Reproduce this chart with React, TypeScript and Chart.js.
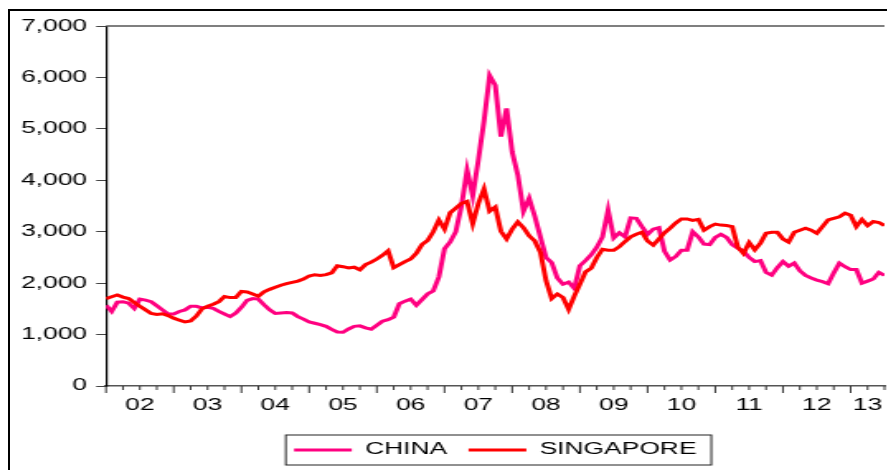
import React, { useEffect, useRef } from 'react';
import { Chart, registerables } from 'chart.js';

Chart.register(...registerables);

// ---- data (monthly, starting January 2002) ----
const START_YEAR = 2002;
const SERIES_NAMES = ['CHINA', 'SINGAPORE'];
const YEAR_LABELS = ['02', '03', '04', '05', '06', '07', '08', '09', '10', '11', '12', '13'];
const Y_TICKS = [0, 1000, 2000, 3000, 4000, 5000, 6000, 7000];
const Y_TICK_LABELS = ['0', '1,000', '2,000', '3,000', '4,000', '5,000', '6,000', '7,000'];

const CHINA = [
  1570, 1450, 1630, 1640, 1610, 1510, 1690, 1670, 1640, 1560, 1480, 1400,
  1400, 1450, 1480, 1550, 1550, 1520, 1530, 1510, 1450, 1400, 1350, 1420,
  1530, 1665, 1700, 1690, 1580, 1480, 1410, 1420, 1430, 1420, 1350, 1300,
  1245, 1220, 1195, 1160, 1100, 1050, 1045, 1110, 1160, 1170, 1130, 1105,
  1180, 1260, 1290, 1340, 1600, 1650, 1690, 1570, 1680, 1790, 1850, 2120,
  2670, 2800, 3000, 3500, 4200, 3700, 4400, 5150, 6040, 5850, 4850, 5400,
  4550, 4100, 3400, 3650, 3300, 2900, 2500, 2400, 2100, 1980, 2020, 1900,
  2340, 2440, 2550, 2700, 2900, 3420, 2880, 2980, 2900, 3270, 3260, 3100,
  2950, 3050, 3080, 2620, 2450, 2520, 2640, 2640, 3000, 2900, 2760, 2750,
  2890, 2950, 2890, 2750, 2680, 2620, 2500, 2420, 2440, 2210, 2155, 2300,
  2420, 2330, 2390, 2240, 2150, 2100, 2060, 2030, 1990, 2200, 2390, 2320,
  2265, 2265, 2000, 2040, 2080, 2210, 2150,
];

const SINGAPORE = [
  1700, 1735, 1770, 1730, 1700, 1625, 1550, 1480, 1410, 1390, 1405, 1370,
  1320, 1280, 1245, 1265, 1360, 1500, 1550, 1590, 1640, 1740, 1720, 1720,
  1840, 1830, 1790, 1745, 1830, 1880, 1920, 1960, 1990, 2015, 2040, 2080,
  2140, 2165, 2150, 2165, 2200, 2340, 2320, 2295, 2310, 2260, 2360, 2410,
  2470, 2540, 2630, 2300, 2360, 2420, 2470, 2580, 2750, 2830, 3000, 3230,
  3050, 3370, 3460, 3550, 3590, 3160, 3550, 3830, 3400, 3480, 3010, 2860,
  3050, 3190, 3080, 2920, 2820, 2600, 2050, 1700, 1790, 1720, 1490, 1750,
  1980, 2220, 2290, 2500, 2660, 2640, 2640, 2710, 2810, 2900, 2950, 2990,
  2820, 2740, 2860, 2980, 3070, 3170, 3250, 3250, 3220, 3240, 3030, 3100,
  3150, 3130, 3120, 3100, 2700, 2580, 2790, 2650, 2780, 2970, 2990, 2990,
  2860, 2800, 2990, 3030, 3070, 3030, 2970, 3100, 3230, 3260, 3290, 3360,
  3320, 3100, 3240, 3120, 3200, 3180, 3120,
];

const CHINA_COLOR = '#FF0080';
const SINGAPORE_COLOR = '#FF0000';

// ---- layout ----
const STRETCH = 1.65; // the reference is horizontally stretched
const CW = 532;
const CH = 470;

export default function App() {
  const ref = useRef<HTMLCanvasElement>(null);

  useEffect(() => {
    document.documentElement.style.overflow = 'hidden';
    document.body.style.overflow = 'hidden';
    const canvas = ref.current;
    if (!canvas) return;

    const xs = CHINA.map((_, i) => START_YEAR + i / 12);
    const xMax = xs[xs.length - 1];
    const font = { family: "'Liberation Sans', Arial, sans-serif", size: 16 };

    const decor = {
      id: 'decor',
      afterDraw(chart: any) {
        const ctx = chart.ctx;
        const sc = chart.scales.x;
        const a = chart.chartArea;
        ctx.save();
        // quarterly tick marks
        ctx.strokeStyle = '#333';
        ctx.lineWidth = 1;
        for (let k = Math.ceil(sc.min * 4); k / 4 <= sc.max + 1e-9; k++) {
          const q = k / 4;
          const px = sc.getPixelForValue(q);
          const len = k % 4 === 0 ? 7 : 4;
          ctx.beginPath();
          ctx.moveTo(px, a.bottom);
          ctx.lineTo(px, a.bottom + len);
          ctx.stroke();
        }
        // top frame line
        ctx.strokeStyle = '#555';
        ctx.lineWidth = 1.5;
        ctx.beginPath();
        ctx.moveTo(a.left, a.top);
        ctx.lineTo(a.right, a.top);
        ctx.stroke();
        // legend border
        const hb = chart.legend && chart.legend.legendHitBoxes;
        if (hb && hb.length) {
          const l = Math.min(...hb.map((h: any) => h.left));
          const r = Math.max(...hb.map((h: any) => h.left + h.width));
          const t = Math.min(...hb.map((h: any) => h.top));
          const b = Math.max(...hb.map((h: any) => h.top + h.height));
          ctx.strokeStyle = '#222';
          ctx.lineWidth = 1;
          ctx.strokeRect(l - 5, t - 7, r - l + 14, b - t + 14);
        }
        ctx.restore();
      },
    };

    const chart = new Chart(canvas, {
      type: 'line',
      data: {
        datasets: [
          {
            label: SERIES_NAMES[0],
            data: xs.map((x, i) => ({ x, y: CHINA[i] })),
            borderColor: CHINA_COLOR,
            backgroundColor: CHINA_COLOR,
            borderWidth: 3,
            pointRadius: 0,
            tension: 0,
            order: 1,
          },
          {
            label: SERIES_NAMES[1],
            data: xs.map((x, i) => ({ x, y: SINGAPORE[i] })),
            borderColor: SINGAPORE_COLOR,
            backgroundColor: SINGAPORE_COLOR,
            borderWidth: 3,
            pointRadius: 0,
            tension: 0,
            order: 0,
          },
        ],
      },
      options: {
        animation: false,
        responsive: false,
        devicePixelRatio: 1,
        layout: { padding: { top: 13, right: 2, bottom: 13, left: 0 } },
        plugins: {
          legend: {
            position: 'bottom',
            fullSize: false,
            labels: {
              boxWidth: 35,
              boxHeight: 3,
              padding: 13,
              font,
              color: '#000',
              generateLabels: (c: any) =>
                c.data.datasets.map((d: any, i: number) => ({
                  text: d.label,
                  fillStyle: d.borderColor,
                  strokeStyle: d.borderColor,
                  lineWidth: 0,
                  hidden: false,
                  datasetIndex: i,
                  fontColor: '#000',
                })),
            },
          },
          tooltip: { enabled: false },
        },
        scales: {
          x: {
            type: 'linear',
            min: START_YEAR,
            max: xMax,
            grid: { display: false, drawTicks: false },
            border: { display: true, color: '#555', width: 1.5 },
            afterBuildTicks: (s: any) => {
              s.ticks = YEAR_LABELS.map((_, i) => {
                const lo = Math.max(START_YEAR + i, s.min);
                const hi = Math.min(START_YEAR + i + 1, s.max);
                return { value: (lo + hi) / 2 };
              });
            },
            ticks: {
              autoSkip: false,
              maxRotation: 0,
              minRotation: 0,
              padding: 10,
              font,
              color: '#000',
              callback: (_v: any, i: number) => YEAR_LABELS[i],
            },
            afterFit: (s: any) => {
              s.height = 43;
              s.paddingLeft = 0;
              s.paddingRight = 0;
            },
          },
          y: {
            type: 'linear',
            min: 0,
            max: 7000,
            afterBuildTicks: (s: any) => {
              s.ticks = Y_TICKS.map((v) => ({ value: v }));
            },
            ticks: {
              padding: 5.5,
              font,
              color: '#000',
              callback: (_v: any, i: number) => Y_TICK_LABELS[i],
            },
            grid: { drawOnChartArea: false, tickLength: 6, color: '#444', lineWidth: 1 },
            border: { display: true, color: '#000', width: 1.2 },
            afterFit: (s: any) => {
              s.width = 58.2;
            },
          },
        },
      },
      plugins: [decor],
    } as any);

    return () => chart.destroy();
  }, []);

  return (
    <div
      style={{
        position: 'absolute',
        left: 8,
        top: 9,
        width: 881,
        height: 480,
        boxSizing: 'border-box',
        border: '2px solid #000',
        overflow: 'hidden',
        background: '#fff',
      }}
    >
      <div style={{ width: CW, height: CH, transform: `scaleX(${STRETCH})`, transformOrigin: '0 0' }}>
        <canvas ref={ref} width={CW} height={CH} style={{ display: 'block' }} />
      </div>
    </div>
  );
}
